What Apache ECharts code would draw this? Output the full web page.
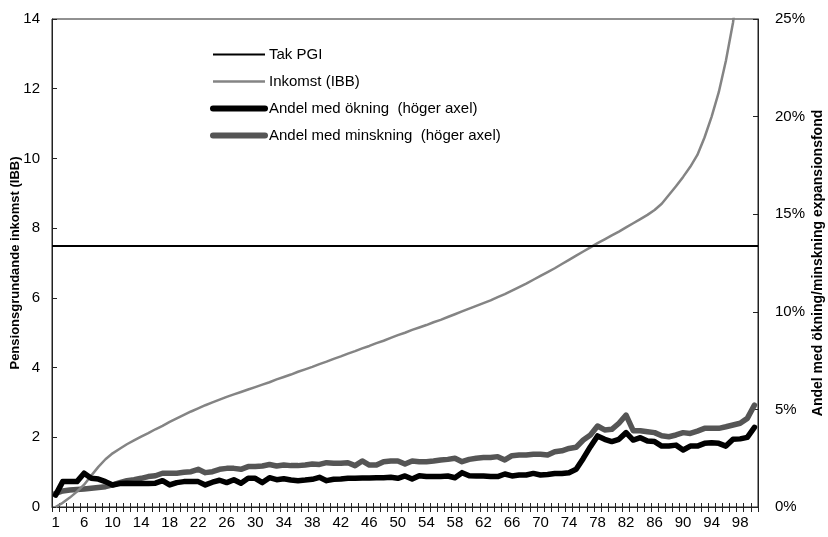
<!DOCTYPE html>
<html>
<head>
<meta charset="utf-8">
<script src="https://cdn.jsdelivr.net/npm/echarts@6/dist/echarts.min.js"></script>
<style>html,body{margin:0;padding:0;background:#fff}#c{width:828px;height:537px}</style>
</head>
<body>
<div id="c"></div>
<script>
var categories = ['1','3','4','5','6','7','8','9','10','11','12','13','14','15','16','17','18','19','20','21','22','23','24','25','26','27','28','29','30','31','32','33','34','35','36','37','38','39','40','41','42','43','44','45','46','47','48','49','50','51','52','53','54','55','56','57','58','59','60','61','62','63','64','65','66','67','68','69','70','71','72','73','74','75','76','77','78','79','80','81','82','83','84','85','86','87','88','89','90','91','92','93','94','95','96','97','98','99','100'];

var takPGI = [7.5];

var inkomst = [0.0,0.12,0.27,0.44,0.64,0.9,1.15,1.37,1.54,1.67,
  1.8,1.91,2.02,2.12,2.23,2.33,2.44,2.54,2.64,2.74,
  2.83,2.92,3.0,3.08,3.16,3.23,3.3,3.37,3.44,3.51,
  3.58,3.66,3.73,3.8,3.88,3.95,4.02,4.1,4.17,4.25,
  4.32,4.4,4.47,4.55,4.62,4.7,4.77,4.85,4.93,5.0,
  5.08,5.15,5.22,5.3,5.37,5.45,5.53,5.61,5.69,5.77,
  5.85,5.93,6.02,6.11,6.21,6.31,6.41,6.52,6.63,6.74,
  6.85,6.97,7.09,7.21,7.33,7.45,7.57,7.68,7.79,7.9,
  8.02,8.14,8.26,8.38,8.52,8.7,8.95,9.2,9.47,9.76,
  10.1,10.6,11.2,11.9,12.8,13.9,15.5,18.5,24];

var andelOkning = [0.61,1.3,1.3,1.3,1.73,1.47,1.43,1.3,1.13,1.2,
  1.22,1.2,1.2,1.2,1.22,1.35,1.13,1.25,1.3,1.3,
  1.3,1.13,1.27,1.37,1.25,1.4,1.22,1.47,1.47,1.25,
  1.5,1.4,1.45,1.38,1.35,1.38,1.42,1.52,1.35,1.42,
  1.43,1.47,1.47,1.49,1.49,1.5,1.5,1.52,1.47,1.59,
  1.43,1.6,1.56,1.56,1.56,1.59,1.5,1.76,1.6,1.59,
  1.59,1.56,1.56,1.69,1.59,1.64,1.64,1.72,1.64,1.67,
  1.72,1.72,1.76,1.93,2.49,3.09,3.64,3.47,3.35,3.47,
  3.81,3.43,3.55,3.38,3.35,3.12,3.12,3.17,2.92,3.12,
  3.12,3.26,3.29,3.26,3.12,3.47,3.49,3.57,4.08];

var andelMinskning = [0.7,0.82,0.87,0.9,0.92,0.96,1.0,1.04,1.13,1.25,
  1.35,1.4,1.47,1.56,1.6,1.73,1.73,1.73,1.78,1.81,
  1.93,1.76,1.81,1.93,1.98,1.98,1.93,2.07,2.07,2.1,
  2.18,2.1,2.15,2.12,2.12,2.15,2.2,2.18,2.27,2.24,
  2.24,2.27,2.12,2.36,2.15,2.15,2.32,2.36,2.36,2.2,
  2.36,2.32,2.32,2.36,2.41,2.44,2.5,2.32,2.44,2.5,
  2.53,2.54,2.58,2.41,2.63,2.66,2.66,2.7,2.7,2.66,
  2.83,2.88,3.0,3.06,3.43,3.69,4.15,3.95,3.98,4.29,
  4.71,3.91,3.91,3.86,3.81,3.65,3.6,3.69,3.81,3.77,
  3.89,4.03,4.03,4.03,4.11,4.2,4.29,4.54,5.22];

var leftTicks = {min: 0, max: 14, interval: 2};
var rightTicks = {min: 0, max: 25, interval: 5};

var FONT = '"Liberation Sans", Arial, sans-serif';
var chart = echarts.init(document.getElementById('c'), null, {renderer: 'canvas'});
chart.setOption({
  animation: false,
  backgroundColor: '#fff',
  textStyle: {fontFamily: FONT},
  grid: {left: 52, right: 70, top: 19, bottom: 30, outerBoundsMode: 'none', containLabel: false,
    show: true, borderColor: '#222', borderWidth: 1, backgroundColor: 'transparent'},
  legend: {
    orient: 'vertical', left: 205, top: 42, itemWidth: 52, itemHeight: 14, itemGap: 12,
    itemStyle: {opacity: 0},
    textStyle: {fontFamily: FONT, fontSize: 15, color: '#000', padding: [0,0,0,-1]},
    data: [
      {name: 'Tak PGI', lineStyle: {width: 2, color: '#000'}},
      {name: 'Inkomst (IBB)', lineStyle: {width: 2.5, color: '#848484'}},
      {name: 'Andel med ökning  (höger axel)', lineStyle: {width: 6, color: '#000', cap: 'round'}},
      {name: 'Andel med minskning  (höger axel)', lineStyle: {width: 6, color: '#555', cap: 'round'}}
    ]
  },
  xAxis: [{
    type: 'category', data: categories, boundaryGap: true,
    axisLine: {lineStyle: {color: '#222', width: 1}},
    axisTick: {show: true, interval: 0, length: 5, lineStyle: {color: '#222'}},
    axisLabel: {interval: 3, fontFamily: FONT, fontSize: 15, color: '#000', margin: 8},
    splitLine: {show: false}
  }, {
    type: 'category', data: categories, boundaryGap: true, position: 'bottom',
    axisLine: {show: false},
    axisTick: {show: true, inside: true, interval: 0, length: 4, lineStyle: {color: '#222'}},
    axisLabel: {show: false},
    splitLine: {show: false}
  }],
  yAxis: [{
    type: 'value', min: leftTicks.min, max: leftTicks.max, interval: leftTicks.interval, position: 'left',
    name: 'Pensionsgrundande inkomst (IBB)', nameLocation: 'middle', nameRotate: 90, nameGap: 30,
    nameMoveOverlap: false,
    nameTextStyle: {fontFamily: FONT, fontSize: 13, fontWeight: 'bold', color: '#000'},
    axisLine: {show: true, lineStyle: {color: '#222', width: 1}},
    axisTick: {show: true, inside: true, length: 5, lineStyle: {color: '#222'}},
    axisLabel: {fontFamily: FONT, fontSize: 15, color: '#000', margin: 12},
    splitLine: {show: false}
  }, {
    type: 'value', min: rightTicks.min, max: rightTicks.max, interval: rightTicks.interval, position: 'right',
    name: 'Andel med ökning/minskning expansionsfond', nameLocation: 'middle', nameRotate: 90, nameGap: 53,
    nameMoveOverlap: false,
    nameTextStyle: {fontFamily: FONT, fontSize: 14, fontWeight: 'bold', color: '#000'},
    axisLine: {show: true, lineStyle: {color: '#222', width: 1}},
    axisTick: {show: true, inside: true, length: 5, lineStyle: {color: '#222'}},
    axisLabel: {fontFamily: FONT, fontSize: 15, color: '#000', margin: 17, formatter: '{value}%'},
    splitLine: {show: false}
  }],
  series: [{
    name: 'Tak PGI', type: 'line', data: [], yAxisIndex: 0, symbol: 'none',
    itemStyle: {color: '#000'}, lineStyle: {color: '#000', width: 2},
    markLine: {silent: true, symbol: 'none', label: {show: false}, animation: false,
      lineStyle: {color: '#000', width: 2, type: 'solid'},
      data: [{yAxis: takPGI[0]}]}
  }, {
    name: 'Inkomst (IBB)', type: 'line', data: inkomst, yAxisIndex: 0, symbol: 'none', clip: true,
    itemStyle: {color: '#848484'}, lineStyle: {color: '#848484', width: 2.5}
  }, {
    name: 'Andel med ökning  (höger axel)', type: 'line', data: andelOkning, yAxisIndex: 1, symbol: 'none',
    itemStyle: {color: '#000'}, lineStyle: {color: '#000', width: 5.5, join: 'round', cap: 'round'}, z: 3
  }, {
    name: 'Andel med minskning  (höger axel)', type: 'line', data: andelMinskning, yAxisIndex: 1, symbol: 'none',
    itemStyle: {color: '#555'}, lineStyle: {color: '#555', width: 5.5, join: 'round', cap: 'round'}, z: 2
  }]
});
</script>
</body>
</html>
